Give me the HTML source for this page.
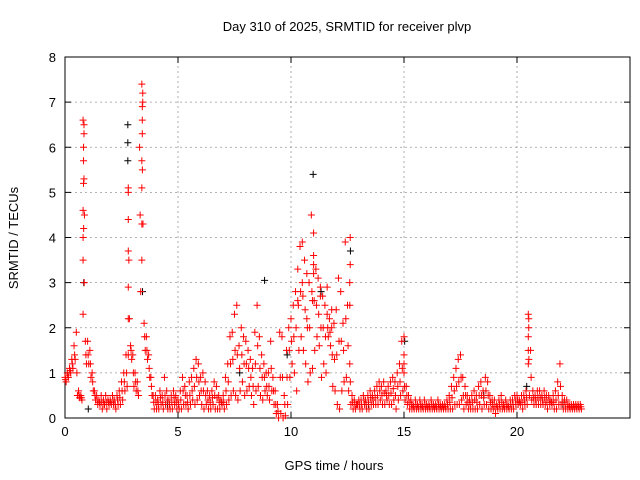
<!DOCTYPE html>
<html><head><meta charset="utf-8"><style>
body{margin:0;background:#fff}
svg{display:block;font-family:"Liberation Sans",sans-serif}
</style></head><body>
<svg id="chart" width="640" height="480">
<rect width="640" height="480" fill="#fff"/>
<text x="347" y="31" text-anchor="middle" font-size="13">Day 310 of 2025, SRMTID for receiver plvp</text>
<text x="334" y="470" text-anchor="middle" font-size="13">GPS time / hours</text>
<text transform="translate(18,238) rotate(-90)" text-anchor="middle" font-size="13">SRMTID / TECUs</text>
<g id="grid"></g><g id="axes"></g><g id="marks"></g>
</svg>
<script>
const xTicks=[0,5,10,15,20];
const yTicks=[0,1,2,3,4,5,6,7,8];
const tStep=0.1;
const upperVals=[0.9,1.0,1.1,1.3,1.6,1.9,0.6,0.5,6.6,1.7,
1.7,1.5,1.0,0.6,0.5,0.4,0.5,0.4,0.5,0.4,
0.4,0.5,0.4,0.5,0.6,0.8,1.0,1.4,5.0,1.6,
1.4,1.0,0.8,6.0,7.4,2.1,1.8,1.4,0.9,0.5,
0.5,0.4,0.6,0.5,0.9,0.6,0.4,0.5,0.6,0.5,
0.4,0.6,0.9,0.7,0.5,0.8,0.9,1.1,1.3,1.2,
0.9,1.0,0.8,0.6,0.5,0.6,0.8,0.7,0.5,0.4,
0.5,0.9,1.2,1.8,1.9,2.3,2.5,1.6,2.0,1.8,
1.7,1.5,1.3,1.1,1.9,2.5,1.8,1.4,1.2,1.0,
1.0,1.7,0.9,0.6,0.3,1.9,1.8,0.5,1.5,2.0,
2.2,2.5,2.8,3.3,3.8,3.9,3.5,3.2,3.0,4.5,
3.4,3.3,3.1,2.9,2.7,2.5,2.3,2.2,2.0,2.1,
2.4,3.1,2.8,2.1,3.9,2.5,1.2,0.5,0.4,0.3,
0.4,0.4,0.5,0.4,0.5,0.6,0.5,0.6,0.7,0.8,
0.7,0.8,0.6,0.7,0.8,0.9,0.8,1.0,1.2,1.7,
1.0,0.7,0.5,0.4,0.3,0.4,0.3,0.4,0.3,0.4,
0.3,0.3,0.4,0.3,0.3,0.4,0.3,0.3,0.3,0.4,
0.5,0.7,0.9,1.1,1.3,1.4,0.9,0.7,0.5,0.4,
0.5,0.6,0.5,0.7,0.8,0.6,0.9,0.8,0.5,0.4,
0.4,0.3,0.4,0.5,0.3,0.4,0.3,0.4,0.4,0.5,
0.5,0.4,0.5,0.5,0.6,2.3,1.5,0.6,0.5,0.6,
0.6,0.5,0.6,0.5,0.5,0.4,0.5,0.6,0.8,1.2,
0.5,0.4,0.4,0.3,0.3,0.3,0.3,0.3,0.3];
const midVals=[0.85,0.95,1.05,1.2,1.4,1.0,0.5,0.45,4.2,1.4,
1.4,1.2,0.8,0.5,0.4,0.35,0.35,0.3,0.35,0.35,
0.35,0.4,0.3,0.4,0.45,0.6,0.8,1.0,3.5,1.5,
1.0,0.8,0.6,4.5,5.5,1.8,1.5,1.1,0.7,0.35,
0.35,0.3,0.45,0.35,0.5,0.4,0.3,0.35,0.45,0.35,
0.3,0.4,0.6,0.5,0.35,0.5,0.6,0.7,0.9,0.8,
0.6,0.6,0.5,0.4,0.35,0.45,0.5,0.45,0.35,0.35,
0.35,0.6,0.8,1.2,1.3,1.5,1.4,1.1,1.4,1.2,
1.2,1.1,0.9,0.7,1.2,1.6,1.1,0.9,0.9,0.7,
0.7,1.1,0.6,0.3,0.15,0.9,0.9,0.3,0.9,1.5,
1.7,1.8,2.0,2.5,2.8,2.7,2.4,2.0,2.0,2.8,
2.6,2.5,2.3,2.0,2.0,1.8,2.0,1.9,1.4,1.3,
1.4,1.7,1.7,1.5,2.2,1.6,0.8,0.35,0.3,0.3,
0.3,0.3,0.4,0.3,0.35,0.45,0.4,0.45,0.5,0.6,
0.5,0.55,0.5,0.5,0.55,0.65,0.5,0.7,0.8,1.1,
0.7,0.5,0.35,0.3,0.25,0.3,0.25,0.3,0.25,0.3,
0.25,0.25,0.3,0.25,0.25,0.3,0.25,0.25,0.25,0.3,
0.35,0.45,0.6,0.7,0.8,0.9,0.5,0.5,0.35,0.3,
0.35,0.4,0.35,0.5,0.5,0.45,0.6,0.5,0.35,0.3,
0.25,0.25,0.3,0.35,0.25,0.3,0.25,0.3,0.3,0.4,
0.4,0.35,0.35,0.4,0.45,1.3,0.9,0.45,0.4,0.45,
0.45,0.4,0.45,0.35,0.4,0.35,0.35,0.4,0.5,0.7,
0.35,0.3,0.3,0.25,0.25,0.25,0.25,0.25,0.25];
const lowerVals=[0.8,0.9,1.0,1.1,1.3,0.5,0.45,0.4,3.0,1.2,
1.2,0.9,0.6,0.4,0.3,0.3,0.2,0.3,0.2,0.3,
0.3,0.3,0.2,0.3,0.3,0.4,0.6,0.7,2.2,1.3,
0.7,0.6,0.5,2.8,4.3,1.5,1.3,0.9,0.5,0.2,
0.2,0.2,0.3,0.2,0.3,0.2,0.2,0.2,0.3,0.2,
0.2,0.2,0.3,0.3,0.2,0.3,0.4,0.3,0.4,0.5,
0.3,0.2,0.3,0.2,0.2,0.3,0.2,0.2,0.2,0.3,
0.2,0.3,0.4,0.5,0.6,0.5,0.4,0.6,0.8,0.5,
0.6,0.7,0.5,0.3,0.6,0.7,0.5,0.4,0.6,0.5,
0.4,0.6,0.3,0.1,0.0,0.1,0.0,0.05,0.3,0.9,
1.2,1.0,0.6,1.5,1.8,1.5,1.2,0.8,1.0,1.1,
1.5,1.8,1.6,0.9,1.2,1.0,1.8,1.6,0.7,0.6,
0.3,0.2,0.6,0.8,0.9,0.6,0.3,0.2,0.2,0.3,
0.2,0.2,0.3,0.2,0.2,0.3,0.3,0.3,0.3,0.4,
0.3,0.3,0.4,0.3,0.3,0.4,0.2,0.4,0.5,0.6,
0.4,0.3,0.2,0.2,0.2,0.2,0.2,0.2,0.2,0.2,
0.2,0.2,0.2,0.2,0.2,0.2,0.2,0.2,0.2,0.2,
0.2,0.2,0.3,0.3,0.3,0.4,0.2,0.3,0.2,0.2,
0.2,0.2,0.2,0.3,0.2,0.3,0.3,0.2,0.2,0.2,
0.1,0.2,0.2,0.2,0.2,0.2,0.2,0.2,0.2,0.3,
0.3,0.3,0.2,0.3,0.3,0.5,0.4,0.3,0.3,0.3,
0.3,0.3,0.3,0.2,0.3,0.3,0.2,0.2,0.3,0.3,
0.2,0.2,0.2,0.2,0.2,0.2,0.2,0.2,0.2];
const spikeTimes=[0.8,0.8,0.8,0.8,0.82,0.82,0.82,0.84,0.84,0.84,0.86,
2.8,2.8,2.8,2.8,2.8,2.8,
3.4,3.4,3.4,3.4,3.42,3.42,3.42,3.44,3.44,
11.0,11.0,11.0,10.95,
12.6,12.6,12.62,12.62,
20.5,20.5,20.5,20.52,20.52,
15.0,15.0,15.0,
10.3,10.5,10.7,11.3,11.6,11.8];
const spikeVals=[2.3,3.5,4.0,4.6,5.2,5.7,6.0,6.3,6.5,5.3,4.5,
1.4,2.9,3.7,4.4,5.1,2.2,
3.5,4.3,5.1,5.7,6.3,6.6,6.9,7.2,7.0,
3.2,3.6,4.1,2.6,
2.5,3.0,3.4,4.0,
1.2,1.5,1.8,2.0,2.2,
1.2,1.4,1.8,
2.6,3.0,2.2,2.7,2.9,2.4];
const blackTimes=[0.8,2.75,2.75,2.75,3.4,8.8,10.95,11.3,12.6,15.0,1.0,4.5,7.7,9.8,13.4,18.5,20.4,22.0];
const blackVals=[3.0,6.5,6.1,5.7,2.8,3.05,5.4,2.8,3.7,1.7,0.2,0.3,1.0,1.4,0.3,0.5,0.7,0.3];

const X0=65,X1=630,Y0=418,Y1=57;
const xs=v=>X0+(v/25)*(X1-X0);
const ys=v=>Y0-(v/8)*(Y0-Y1);
const NS="http://www.w3.org/2000/svg";
function mk(tag,attrs,parent){const e=document.createElementNS(NS,tag);for(const k in attrs)e.setAttribute(k,attrs[k]);parent.appendChild(e);return e;}
const grid=document.getElementById('grid'),axes=document.getElementById('axes'),marks=document.getElementById('marks');
xTicks.forEach(t=>{const x=xs(t);
 if(t>0){const g=mk('line',{x1:x,x2:x,y1:Y0,y2:Y1,stroke:'#999','stroke-dasharray':'2,3','stroke-width':0.8},grid);
 }
 mk('line',{x1:x,x2:x,y1:Y0,y2:Y0-6,stroke:'#000'},axes);mk('line',{x1:x,x2:x,y1:Y1,y2:Y1+6,stroke:'#000'},axes);
 const l=mk('text',{x:x,y:Y0+18,'text-anchor':'middle','font-size':13},axes);l.textContent=t;
 });
yTicks.forEach(t=>{const y=ys(t);
 if(t>0&&t<8){const g=mk('line',{x1:X0,x2:X1,y1:y,y2:y,stroke:'#999','stroke-dasharray':'2,3','stroke-width':0.8},grid);
 }
 mk('line',{x1:X0,x2:X0+6,y1:y,y2:y,stroke:'#000'},axes);mk('line',{x1:X1,x2:X1-6,y1:y,y2:y,stroke:'#000'},axes);
 const l=mk('text',{x:X0-9,y:y+5,'text-anchor':'end','font-size':13},axes);l.textContent=t;
 });
const fr=mk('rect',{x:X0,y:Y1,width:X1-X0,height:Y0-Y1,fill:'none',stroke:'#000'},axes);

function plus(t,v,c){const x=xs(t),y=ys(v);
 const p=mk('path',{d:`M${x-3.5},${y}h7M${x},${y-3.5}v7`,stroke:c,'stroke-width':1,fill:'none'},marks);
 }
blackVals.forEach((v,i)=>plus(blackTimes[i]+0.03,v,'#000'));
upperVals.forEach((v,i)=>plus(i*tStep,v,'#f00'));
midVals.forEach((v,i)=>plus(i*tStep+0.025,v,'#f00'));
lowerVals.forEach((v,i)=>plus(i*tStep+0.05,v,'#f00'));
spikeVals.forEach((v,i)=>plus(spikeTimes[i],v,'#f00'));
</script>
</body></html>
